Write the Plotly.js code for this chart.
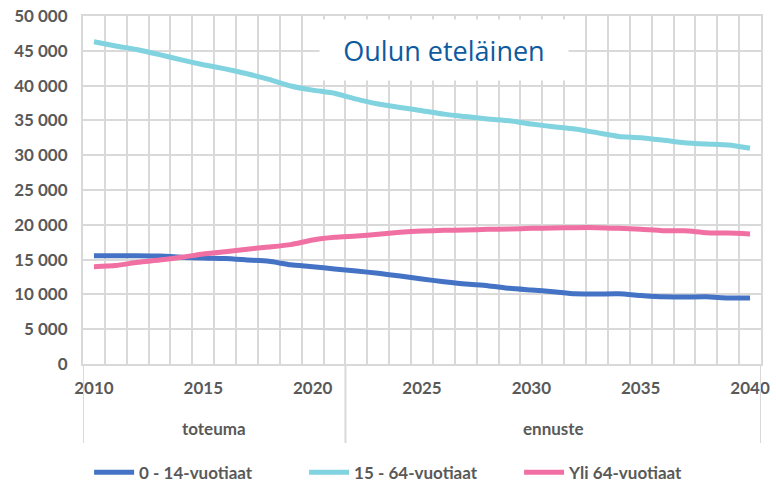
<!DOCTYPE html>
<html>
<head>
<meta charset="utf-8">
<script src="https://cdn.plot.ly/plotly-3.0.1.min.js"></script>
<style>html,body{margin:0;padding:0;background:#fff;}#chart{width:776px;height:484px;}</style>
</head>
<body>
<div id="chart"></div>
<script>
const years = [2010,2011,2012,2013,2014,2015,2016,2017,2018,2019,2020,2021,2022,2023,2024,2025,2026,2027,2028,2029,2030,2031,2032,2033,2034,2035,2036,2037,2038,2039,2040];
const age0to14 = [15560,15560,15550,15500,15350,15220,15150,14950,14750,14250,13980,13650,13360,13030,12640,12210,11830,11490,11250,10870,10630,10390,10080,10060,10080,9850,9650,9630,9650,9500,9480];
const age15to64 = [46300,45700,45150,44450,43700,43000,42400,41700,40900,39950,39350,38900,38050,37350,36850,36400,35900,35550,35200,34950,34480,34100,33760,33240,32700,32520,32180,31800,31610,31470,30990];
const age65plus = [13980,14150,14610,14940,15330,15800,16140,16500,16800,17150,17820,18200,18390,18630,18920,19110,19200,19250,19350,19400,19490,19540,19590,19590,19490,19350,19150,19150,18870,18820,18680];
const seriesNames = ['0 - 14-vuotiaat','15 - 64-vuotiaat','Yli 64-vuotiaat'];
const xTickLabels = [2010,2015,2020,2025,2030,2035,2040];
const yTickVals = [0,5000,10000,15000,20000,25000,30000,35000,40000,45000,50000];
const groupLabels = ['toteuma','ennuste'];
const groupLastYears = [2021,2040];
const chartTitle = 'Oulun eteläinen';

const colors = ['#4472C4','#80D3DF','#F070A4'];
const gray = '#595959';
const gridColor = '#D9D9D9';
const tickFont = {family:'Lato, "Open Sans", sans-serif', size:17, color:gray, weight:700};

const seriesData = [age0to14, age15to64, age65plus];
const traces = seriesData.map((vals,i)=>({
  type:'scatter', mode:'lines', x:years, y:vals, name:seriesNames[i],
  line:{color:colors[i], width:5, shape:'spline', smoothing:0.6},
  hoverinfo:'x+y'
}));

// category boundaries
const bounds = years.map(y=>y-0.5).concat([years[years.length-1]+0.5]);
const groupBounds = [years[0]-0.5].concat(groupLastYears.map(y=>y+0.5));

const shapes = groupBounds.map(b=>({
  type:'line', xref:'x', yref:'paper', x0:b, x1:b, y0:0, y1:-0.227,
  line:{color:gridColor, width:2}
}));

const annotations = groupLabels.map((lab,i)=>({
  text:lab, xref:'x', yref:'paper', x:(groupBounds[i]+groupBounds[i+1])/2, y:-0.184,
  showarrow:false, xanchor:'center', yanchor:'middle', font:tickFont
}));
annotations.push({
  text:chartTitle, xref:'paper', yref:'paper', x:0.532, y:0.902,
  showarrow:false, xanchor:'center', yanchor:'middle',
  bgcolor:'#ffffff', width:246, height:58,
  font:{family:'"Open Sans", Lato, sans-serif', size:27, color:'#0E5A9E'}
});

const layout = {
  width:776, height:484,
  margin:{l:83, r:15, t:16, b:120, autoexpand:false},
  paper_bgcolor:'#ffffff', plot_bgcolor:'#ffffff',
  separators:', ',
  showlegend:true,
  legend:{orientation:'h', x:0.009, xanchor:'left', y:-0.312, yanchor:'middle',
    font:{family:'Lato, "Open Sans", sans-serif', size:17, color:gray, weight:700},
    entrywidth:160, itemwidth:40, traceorder:'normal'},
  xaxis:{range:[years[0]-0.5, years[years.length-1]+0.5], tickmode:'array', tickvals:xTickLabels,
    ticktext:xTickLabels.map(String), showgrid:false, zeroline:false, ticks:'', tickfont:tickFont,
    ticklabelstandoff:8, automargin:false,
    showline:true, linecolor:gridColor, linewidth:2, mirror:true,
    minor:{tickmode:'array', tickvals:bounds, showgrid:true, gridcolor:gridColor, gridwidth:2, ticks:''},
    fixedrange:true},
  yaxis:{range:[0,50000], tickmode:'array', tickvals:yTickVals, tickformat:',d',
    showgrid:true, gridcolor:gridColor, gridwidth:2, zeroline:false, ticks:'', tickfont:tickFont,
    ticklabelstandoff:10, automargin:false,
    showline:true, linecolor:gridColor, linewidth:2, mirror:true, fixedrange:true},
  shapes:shapes,
  annotations:annotations
};

Plotly.newPlot('chart', traces, layout, {displayModeBar:false, staticPlot:true});
</script>
</body>
</html>
